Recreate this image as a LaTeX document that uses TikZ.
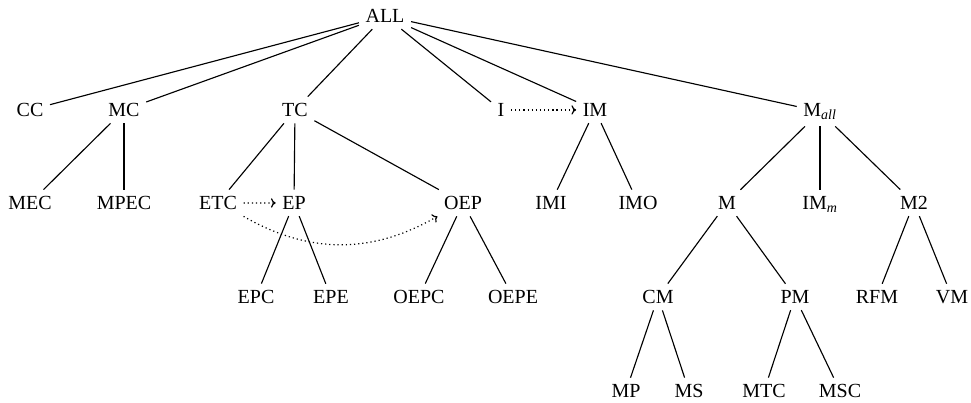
\documentclass[tikz,border=0pt]{standalone}
\usepackage{fontspec}
\setmainfont{Liberation Serif}
\usepackage{tikz}
\usetikzlibrary{arrows.meta}

\tikzset{
  tnode/.style={inner sep=5pt, outer sep=0pt, anchor=base, font=\fontsize{15}{18}\selectfont},
  tedge/.style={draw, line width=0.85pt},
  tlink/.style={draw, line width=0.9pt, dash pattern=on 0.9pt off 2.2pt,
    -{To[length=3.5pt,width=7pt]}}
}

\begin{document}
\begin{tikzpicture}[x=0.75pt,y=0.75pt,yscale=-1,xscale=1]
\useasboundingbox (0,0) rectangle (971,403);

% Level 0
\node [tnode] (ALL) at (385,22.5) {ALL};
% Level 1
\node [tnode] (CC) at (30,116.5) {CC};
\node [tnode] (MC) at (124,116.5) {MC};
\node [tnode] (TC) at (295,116.5) {TC};
\node [tnode] (I) at (501,116.5) {I};
\node [tnode] (IM) at (595,116.5) {IM};
\node [tnode] (Mall) at (820,116.5) {M\textsubscript{\textit{all}}};
% Level 2
\node [tnode] (MEC) at (30,209.5) {MEC};
\node [tnode] (MPEC) at (124,209.5) {MPEC};
\node [tnode] (ETC) at (218,209.5) {ETC};
\node [tnode] (EP) at (294,209.5) {EP};
\node [tnode] (OEP) at (463,209.5) {OEP};
\node [tnode] (IMI) at (551,209.5) {IMI};
\node [tnode] (IMO) at (638,209.5) {IMO};
\node [tnode] (M) at (727,209.5) {M};
\node [tnode] (IMm) at (820,209.5) {IM\textsubscript{\textit{m}}};
\node [tnode] (M2) at (914,209.5) {M2};
% Level 3
\node [tnode] (EPC) at (256,303.5) {EPC};
\node [tnode] (EPE) at (331,303.5) {EPE};
\node [tnode] (OEPC) at (419,303.5) {OEPC};
\node [tnode] (OEPE) at (513,303.5) {OEPE};
\node [tnode] (CM) at (658,303.5) {CM};
\node [tnode] (PM) at (795,303.5) {PM};
\node [tnode] (RFM) at (877,303.5) {RFM};
\node [tnode] (VM) at (952,303.5) {VM};
% Level 4
\node [tnode] (MP) at (626,397.5) {MP};
\node [tnode] (MS) at (689,397.5) {MS};
\node [tnode] (MTC) at (764,397.5) {MTC};
\node [tnode] (MSC) at (840,397.5) {MSC};

%Straight Lines
\foreach \child in {CC,MC,TC,I,IM,Mall}
  \path [tedge] (ALL) -- (\child);
\foreach \child in {MEC,MPEC}
  \path [tedge] (MC) -- (\child);
\foreach \child in {ETC,EP,OEP}
  \path [tedge] (TC) -- (\child);
\foreach \child in {IMI,IMO}
  \path [tedge] (IM) -- (\child);
\foreach \child in {M,IMm,M2}
  \path [tedge] (Mall) -- (\child);
\foreach \child in {EPC,EPE}
  \path [tedge] (EP) -- (\child);
\foreach \child in {OEPC,OEPE}
  \path [tedge] (OEP) -- (\child);
\foreach \child in {CM,PM}
  \path [tedge] (M) -- (\child);
\foreach \child in {RFM,VM}
  \path [tedge] (M2) -- (\child);
\foreach \child in {MP,MS}
  \path [tedge] (CM) -- (\child);
\foreach \child in {MTC,MSC}
  \path [tedge] (PM) -- (\child);

%Dotted links
\path [tlink] (I) -- (IM);
\path [tlink] (ETC) -- (EP);
\path [tlink] (ETC.south east) to [bend left=30] (OEP.south west);

\end{tikzpicture}
\end{document}
